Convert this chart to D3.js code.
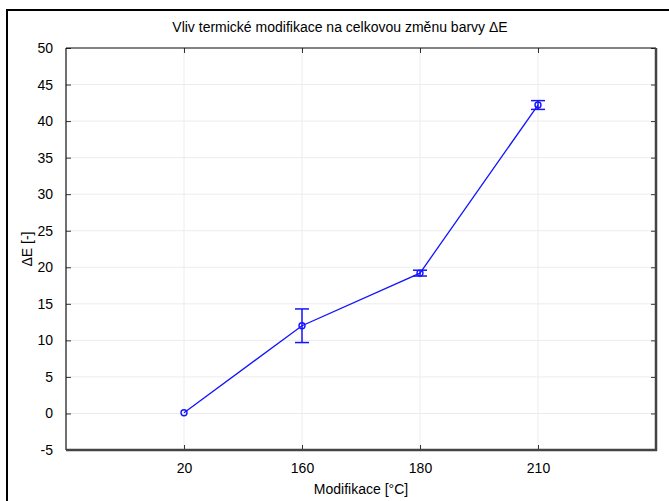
<!DOCTYPE html>
<html>
<head>
<meta charset="utf-8">
<script src="https://cdn.jsdelivr.net/npm/d3@7"></script>
<style>
  body { margin: 0; background: #fff; }
  svg { display: block; font-family: "Liberation Sans", Arial, sans-serif; }
</style>
</head>
<body>
<div id="chart"></div>
<script>
// data
var categories = ["20", "160", "180", "210"];
var meanValues = [0.1, 12.0, 19.2, 42.2];
var errorValues = [0.0, 2.3, 0.4, 0.6];
var yTicks = [-5, 0, 5, 10, 15, 20, 25, 30, 35, 40, 45, 50];

var width = 669, height = 501;
var margin = { left: 66, right: 13, top: 48, bottom: 51 };

var svg = d3.select("#chart")
    .append("svg")
    .attr("width", width)
    .attr("height", height);

// outer frame (runs off right and bottom edge)
svg.append("rect")
    .attr("x", 7)
    .attr("y", 10)
    .attr("width", 700)
    .attr("height", 600)
    .style("fill", "none")
    .style("stroke", "#000")
    .style("stroke-width", 2);

var x = d3.scaleLinear()
    .domain([0, categories.length + 1])
    .range([margin.left, width - margin.right]);

var y = d3.scaleLinear()
    .domain([-5, 50])
    .range([height - margin.bottom, margin.top]);

var x0 = margin.left, x1 = width - margin.right,
    y0 = height - margin.bottom, y1 = margin.top;

// grid
svg.append("g").selectAll("line.hgrid")
    .data(yTicks)
    .enter().append("line")
    .attr("x1", x0).attr("x2", x1)
    .attr("y1", function(d) { return y(d); })
    .attr("y2", function(d) { return y(d); })
    .style("stroke", "#ececec")
    .style("stroke-width", 1);

svg.append("g").selectAll("line.vgrid")
    .data(categories)
    .enter().append("line")
    .attr("x1", function(d, i) { return x(i + 1); })
    .attr("x2", function(d, i) { return x(i + 1); })
    .attr("y1", y0).attr("y2", y1)
    .style("stroke", "#ececec")
    .style("stroke-width", 1);

// axes with inward ticks
var tickFmt = function(i) { return categories[i - 1]; };
var catIdx = categories.map(function(d, i) { return i + 1; });

var gLeft = svg.append("g")
    .attr("transform", "translate(" + x0 + ",0)")
    .call(d3.axisLeft(y).tickValues(yTicks).tickSize(-5).tickPadding(13)
        .tickFormat(function(d) { return String(d); }));
var gRight = svg.append("g")
    .attr("transform", "translate(" + x1 + ",0)")
    .call(d3.axisRight(y).tickValues(yTicks).tickSize(-5).tickFormat(""));
var gBottom = svg.append("g")
    .attr("transform", "translate(0," + y0 + ")")
    .call(d3.axisBottom(x).tickValues(catIdx).tickFormat(tickFmt).tickSize(-5).tickPadding(13));
var gTop = svg.append("g")
    .attr("transform", "translate(0," + y1 + ")")
    .call(d3.axisTop(x).tickValues(catIdx).tickSize(-5).tickFormat(""));

[gLeft, gRight, gBottom, gTop].forEach(function(g) {
    g.select(".domain").remove();
    g.selectAll(".tick line").style("stroke", "#333");
    g.selectAll("text")
        .style("font-family", "Liberation Sans, Arial, sans-serif")
        .style("font-size", "14px")
        .style("fill", "#000");
});

// plot border
svg.append("line").attr("x1", x0).attr("x2", x1).attr("y1", y1).attr("y2", y1)
    .style("stroke", "#111").style("stroke-width", 1.2);
svg.append("line").attr("x1", x0).attr("x2", x0).attr("y1", y1).attr("y2", y0)
    .style("stroke", "#111").style("stroke-width", 1.2);
svg.append("line").attr("x1", x1).attr("x2", x1).attr("y1", y1).attr("y2", y0 + 1)
    .style("stroke", "#444").style("stroke-width", 2.5);
svg.append("line").attr("x1", x0).attr("x2", x1 + 1).attr("y1", y0).attr("y2", y0)
    .style("stroke", "#444").style("stroke-width", 2.5);

// series
var pts = categories.map(function(c, i) {
    return { i: i + 1, v: meanValues[i], e: errorValues[i] };
});

var line = d3.line()
    .x(function(d) { return x(d.i); })
    .y(function(d) { return y(d.v); });

svg.append("path")
    .datum(pts)
    .attr("d", line)
    .style("fill", "none")
    .style("stroke", "#1414ff")
    .style("stroke-width", 1.3);

// error bars
var eb = svg.append("g").selectAll("g.err")
    .data(pts.filter(function(d) { return d.e > 0; }))
    .enter().append("g")
    .style("stroke", "#1414ff")
    .style("stroke-width", 1.5);
eb.append("line")
    .attr("x1", function(d) { return x(d.i); })
    .attr("x2", function(d) { return x(d.i); })
    .attr("y1", function(d) { return y(d.v - d.e); })
    .attr("y2", function(d) { return y(d.v + d.e); });
eb.append("line")
    .attr("x1", function(d) { return x(d.i) - 7; })
    .attr("x2", function(d) { return x(d.i) + 7; })
    .attr("y1", function(d) { return y(d.v + d.e); })
    .attr("y2", function(d) { return y(d.v + d.e); });
eb.append("line")
    .attr("x1", function(d) { return x(d.i) - 7; })
    .attr("x2", function(d) { return x(d.i) + 7; })
    .attr("y1", function(d) { return y(d.v - d.e); })
    .attr("y2", function(d) { return y(d.v - d.e); });

// markers
svg.append("g").selectAll("circle")
    .data(pts)
    .enter().append("circle")
    .attr("cx", function(d) { return x(d.i); })
    .attr("cy", function(d) { return y(d.v); })
    .attr("r", 3)
    .style("fill", "none")
    .style("stroke", "#1414ff")
    .style("stroke-width", 1.4);

// title and axis labels
svg.append("text")
    .attr("x", 340)
    .attr("y", 32)
    .style("text-anchor", "middle")
    .style("font-size", "14px")
    .text("Vliv termické modifikace na celkovou změnu barvy ΔE");

svg.append("text")
    .attr("x", (x0 + x1) / 2)
    .attr("y", 494)
    .style("text-anchor", "middle")
    .style("font-size", "14px")
    .text("Modifikace [°C]");

svg.append("text")
    .attr("transform", "translate(32," + ((y0 + y1) / 2) + ") rotate(-90)")
    .style("text-anchor", "middle")
    .style("font-size", "14px")
    .text("ΔE [-]");
</script>
</body>
</html>
